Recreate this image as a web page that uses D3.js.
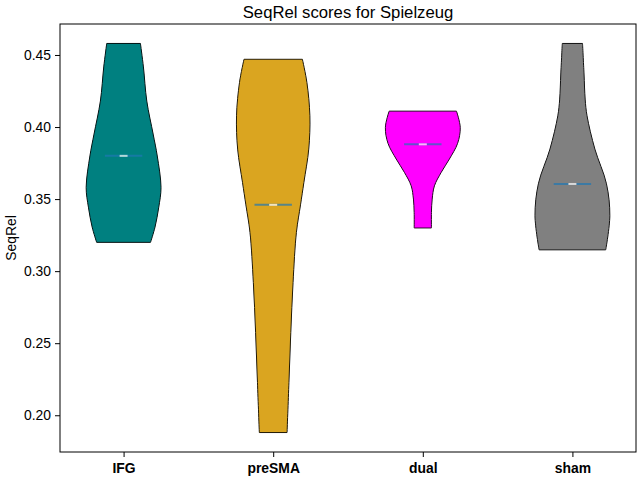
<!DOCTYPE html>
<html>
<head>
<meta charset="utf-8">
<script src="https://cdn.jsdelivr.net/npm/d3@7"></script>
<style>
  body { margin: 0; background: #fff; }
  svg text { font-family: "Liberation Sans", Arial, sans-serif; fill: #000; }
</style>
</head>
<body>
<svg id="chart" width="640" height="480"></svg>
<script>
// categories and colours
let groups = ['IFG', 'preSMA', 'dual', 'sham'];
let colors = ['#008080', '#DAA520', '#FF00FF', '#808080'];
let medians = [0.380, 0.346, 0.388, 0.3605];
let yTicks = [0.20, 0.25, 0.30, 0.35, 0.40, 0.45];

// violin outlines: value and relative half-width (1 = widest)
let ifgValues    = [0.320, 0.3306, 0.3444, 0.358, 0.3799, 0.3951, 0.418, 0.4417, 0.458];
let ifgWidths    = [0.72, 0.84, 0.94, 1.00, 0.90, 0.79, 0.62, 0.53, 0.45];
let presmaValues = [0.188, 0.2227, 0.2574, 0.2921, 0.3269, 0.346, 0.3616, 0.3847, 0.4078, 0.431, 0.447];
let presmaWidths = [0.37, 0.42, 0.47, 0.53, 0.62, 0.73, 0.82, 0.95, 0.98, 0.90, 0.78];
let dualValues   = [0.330, 0.3407, 0.350, 0.3592, 0.3685, 0.3778, 0.3887, 0.3998, 0.411];
let dualWidths   = [0.23, 0.23, 0.25, 0.31, 0.49, 0.71, 0.93, 1.00, 0.90];
let shamValues   = [0.3148, 0.3384, 0.3606, 0.3847, 0.4078, 0.4194, 0.4368, 0.458];
let shamWidths   = [0.89, 1.00, 0.91, 0.60, 0.39, 0.34, 0.31, 0.27];

let profiles = [
  [ifgValues, ifgWidths],
  [presmaValues, presmaWidths],
  [dualValues, dualWidths],
  [shamValues, shamWidths]
];

// axes box
let mLeft = 60, mRight = 636, mTop = 24, mBottom = 452;

let svg = d3.select('svg#chart');

// positions 1..4, violin width 0.5 plus 5% margins like matplotlib
let xScale = d3.scaleLinear()
  .domain([0.575, 4.425])
  .range([mLeft, mRight]);

let yScale = d3.scaleLinear()
  .domain([0.1745, 0.4715])
  .range([mBottom, mTop]);

let halfW = 0.25;

let area = d3.area()
  .curve(d3.curveCatmullRom.alpha(0.5))
  .y(d => yScale(d.v));

let bodies = svg.append('g');

profiles.forEach((p, i) => {
  let pos = i + 1;
  let pts = p[0].map((v, k) => ({v: v, w: p[1][k]}));
  let shape = area
    .x0(d => xScale(pos - d.w * halfW))
    .x1(d => xScale(pos + d.w * halfW))(pts);

  bodies.append('path')
    .attr('d', shape)
    .attr('fill', colors[i])
    .attr('stroke', '#000')
    .attr('stroke-width', 1);

  // median line
  let ym = yScale(medians[i]);
  bodies.append('line')
    .attr('x1', xScale(pos - halfW / 2))
    .attr('x2', xScale(pos + halfW / 2))
    .attr('y1', ym)
    .attr('y2', ym)
    .attr('stroke', '#1f77b4')
    .attr('stroke-width', 2);

  bodies.append('line')
    .attr('x1', xScale(pos) - 4)
    .attr('x2', xScale(pos) + 4)
    .attr('y1', ym)
    .attr('y2', ym)
    .attr('stroke', '#fff')
    .attr('stroke-width', 2);

  // translucent body over the lines
  bodies.append('path')
    .attr('d', shape)
    .attr('fill', colors[i])
    .attr('fill-opacity', 0.3)
    .attr('stroke', 'none');
});

// frame
svg.append('rect')
  .attr('x', mLeft)
  .attr('y', mTop)
  .attr('width', mRight - mLeft)
  .attr('height', mBottom - mTop)
  .attr('fill', 'none')
  .attr('stroke', '#000')
  .attr('stroke-width', 1);

// y axis
let yAxis = svg.append('g')
  .attr('transform', `translate(${mLeft}, 0)`)
  .call(d3.axisLeft(yScale).tickValues(yTicks).tickFormat(d3.format('.2f')).tickSize(5).tickPadding(4));
yAxis.select('.domain').remove();
yAxis.selectAll('text').attr('font-size', 13.9).attr('font-family', '"Liberation Sans", Arial, sans-serif');
yAxis.selectAll('line').attr('stroke', '#000');

// x axis
let xAxis = svg.append('g')
  .attr('transform', `translate(0, ${mBottom})`)
  .call(d3.axisBottom(xScale).tickValues([1, 2, 3, 4]).tickFormat(d => groups[d - 1]).tickSize(5).tickPadding(6));
xAxis.select('.domain').remove();
xAxis.selectAll('text')
  .attr('font-size', 13.9)
  .attr('font-weight', 'bold')
  .attr('font-family', '"Liberation Sans", Arial, sans-serif');
xAxis.selectAll('line').attr('stroke', '#000');

// labels
svg.append('text')
  .attr('x', (mLeft + mRight) / 2)
  .attr('y', 18)
  .attr('text-anchor', 'middle')
  .attr('font-size', 16.7)
  .text('SeqRel scores for Spielzeug');

svg.append('text')
  .attr('transform', `translate(16, ${(mTop + mBottom) / 2}) rotate(-90)`)
  .attr('text-anchor', 'middle')
  .attr('font-size', 13.9)
  .text('SeqRel');
</script>
</body>
</html>
